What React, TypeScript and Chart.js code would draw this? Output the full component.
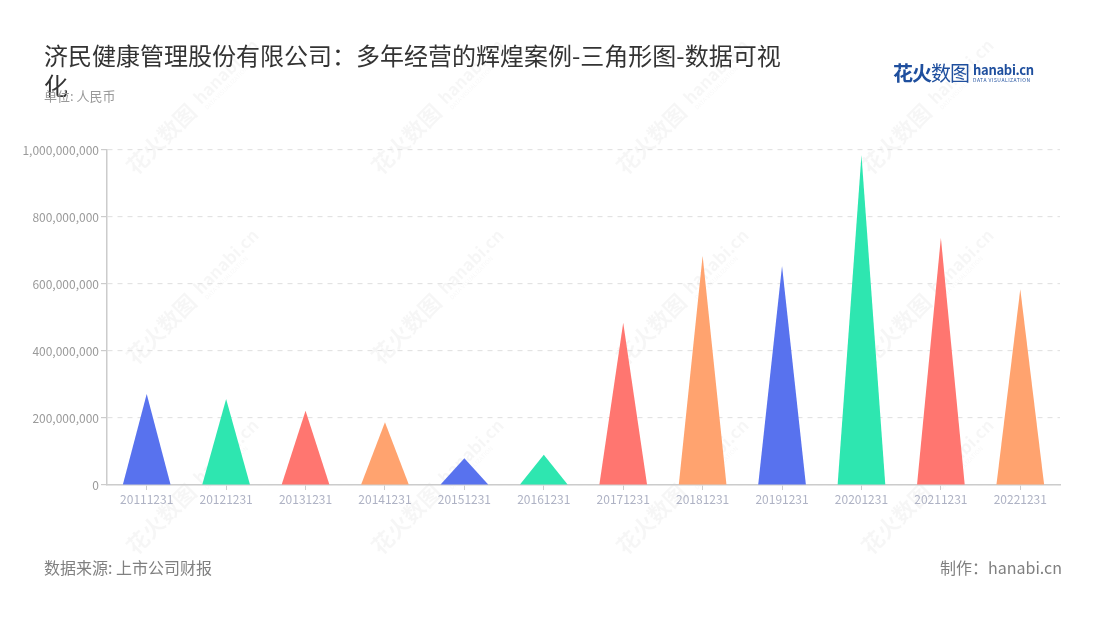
import React, { useEffect, useRef } from "react";
import { Chart, registerables } from "chart.js";

Chart.register(...registerables);

const categories = [
  "20111231", "20121231", "20131231", "20141231", "20151231", "20161231",
  "20171231", "20181231", "20191231", "20201231", "20211231", "20221231",
];
const values = [
  272000000, 257000000, 222000000, 187000000, 80000000, 90000000,
  484000000, 684000000, 654000000, 985000000, 738000000, 584000000,
];
const palette = ["#5872EE", "#2EE6B0", "#FF7670", "#FFA36F"];
const yTicks = [0, 200000000, 400000000, 600000000, 800000000, 1000000000];

const FONT = "'Noto Sans CJK SC', 'Noto Sans', sans-serif";

const watermarkPlugin = {
  id: "watermark",
  beforeDraw(chart: any) {
    const ctx = chart.ctx;
    const cols = [130, 375, 620, 865];
    const rows = [170, 360, 550];
    ctx.save();
    ctx.fillStyle = "rgba(0,0,0,0.035)";
    ctx.textBaseline = "middle";
    for (const ry of rows) {
      for (const cx of cols) {
        ctx.save();
        ctx.translate(cx, ry);
        ctx.rotate(-Math.PI / 4);
        ctx.font = `bold 22px ${FONT}`;
        ctx.fillText("花火数图", 0, 0);
        ctx.font = `bold 17px ${FONT}`;
        ctx.fillText("hanabi.cn", 96, -2);
        ctx.font = `6px ${FONT}`;
        ctx.fillText("DATA VISUALIZATION", 97, 10);
        ctx.restore();
      }
    }
    ctx.restore();
  },
};

const trianglePlugin = {
  id: "triangles",
  afterDatasetsDraw(chart: any) {
    const ctx = chart.ctx;
    const meta = chart.getDatasetMeta(0);
    ctx.save();
    meta.data.forEach((bar: any, i: number) => {
      const { x, y, base, width } = bar.getProps(["x", "y", "base", "width"], true);
      ctx.beginPath();
      ctx.moveTo(x - width / 2, base);
      ctx.lineTo(x, y);
      ctx.lineTo(x + width / 2, base);
      ctx.closePath();
      ctx.fillStyle = palette[i % palette.length];
      ctx.fill();
    });
    ctx.restore();
  },
};

export default function App() {
  const ref = useRef<HTMLCanvasElement>(null);

  useEffect(() => {
    if (!ref.current) return;
    const chart = new Chart(ref.current, {
      type: "bar",
      data: {
        labels: categories,
        datasets: [
          {
            data: values,
            backgroundColor: "rgba(0,0,0,0)",
            borderWidth: 0,
            barPercentage: 0.6,
            categoryPercentage: 1,
          },
        ],
      },
      options: {
        responsive: false,
        animation: false,
        layout: { padding: { left: 0, top: 150, right: 40, bottom: 105 } },
        plugins: {
          legend: { display: false },
          tooltip: { enabled: false },
        },
        scales: {
          x: {
            offset: true,
            grid: {
              display: true,
              drawOnChartArea: false,
              drawTicks: true,
              tickLength: 5,
              tickColor: "#cccccc",
              offset: false,
            },
            border: { color: "#cccccc", width: 1.5 },
            ticks: {
              color: "#aeb2c4",
              font: { family: FONT, size: 12 },
              padding: 2,
              maxRotation: 0,
              autoSkip: false,
            },
            afterFit(scale: any) {
              scale.height = 30;
            },
          },
          y: {
            min: 0,
            max: 1000000000,
            afterBuildTicks(scale: any) {
              scale.ticks = yTicks.map((v) => ({ value: v }));
            },
            grid: {
              color: "#e3e3e3",
              lineWidth: 1.2,
              drawTicks: true,
              tickLength: 6,
              tickColor: "#cccccc",
              tickBorderDash: [],
            },
            border: { color: "#cccccc", width: 1.5, dash: [5, 5] },
            ticks: {
              color: "#9a9a9a",
              font: { family: FONT, size: 12 },
              padding: 2,
              callback: (v: any) => Number(v).toLocaleString("en-US"),
            },
            afterFit(scale: any) {
              scale.width = 107;
            },
          },
        },
      },
      plugins: [watermarkPlugin, trianglePlugin],
    });
    return () => chart.destroy();
  }, []);

  return (
    <div
      style={{
        position: "fixed",
        left: 0,
        top: 0,
        width: 1100,
        height: 620,
        background: "#ffffff",
        fontFamily: FONT,
        overflow: "hidden",
      }}
    >
      <canvas ref={ref} width={1100} height={620} style={{ position: "absolute", left: 0, top: 0 }} />
      <div
        style={{
          position: "absolute",
          left: 44,
          top: 40,
          width: 750,
          fontSize: 24,
          lineHeight: "30px",
          color: "#333333",
        }}
      >
        济民健康管理股份有限公司：多年经营的辉煌案例-三角形图-数据可视化
      </div>
      <div
        style={{
          position: "absolute",
          left: 44,
          top: 87,
          fontSize: 13,
          lineHeight: "18px",
          color: "#999999",
        }}
      >
        单位: 人民币
      </div>
      <div
        style={{
          position: "absolute",
          left: 893,
          top: 58,
          display: "flex",
          alignItems: "center",
          color: "#1f4f9e",
        }}
      >
        <span style={{ fontSize: 20, fontWeight: 700, letterSpacing: -1 }}>花火</span>
        <span style={{ fontSize: 20, fontWeight: 400, letterSpacing: -1 }}>数图</span>
        <div style={{ marginLeft: 4, display: "flex", flexDirection: "column", lineHeight: 1 }}>
          <span style={{ fontSize: 13, fontWeight: 700, letterSpacing: -0.3 }}>hanabi.cn</span>
          <span style={{ fontSize: 5, letterSpacing: 0.5, marginTop: 1 }}>DATA VISUALIZATION</span>
        </div>
      </div>
      <div
        style={{
          position: "absolute",
          left: 44,
          top: 556,
          fontSize: 16,
          lineHeight: "22px",
          color: "#808080",
        }}
      >
        数据来源: 上市公司财报
      </div>
      <div
        style={{
          position: "absolute",
          right: 38,
          top: 556,
          fontSize: 16,
          lineHeight: "22px",
          color: "#808080",
        }}
      >
        制作：hanabi.cn
      </div>
    </div>
  );
}
